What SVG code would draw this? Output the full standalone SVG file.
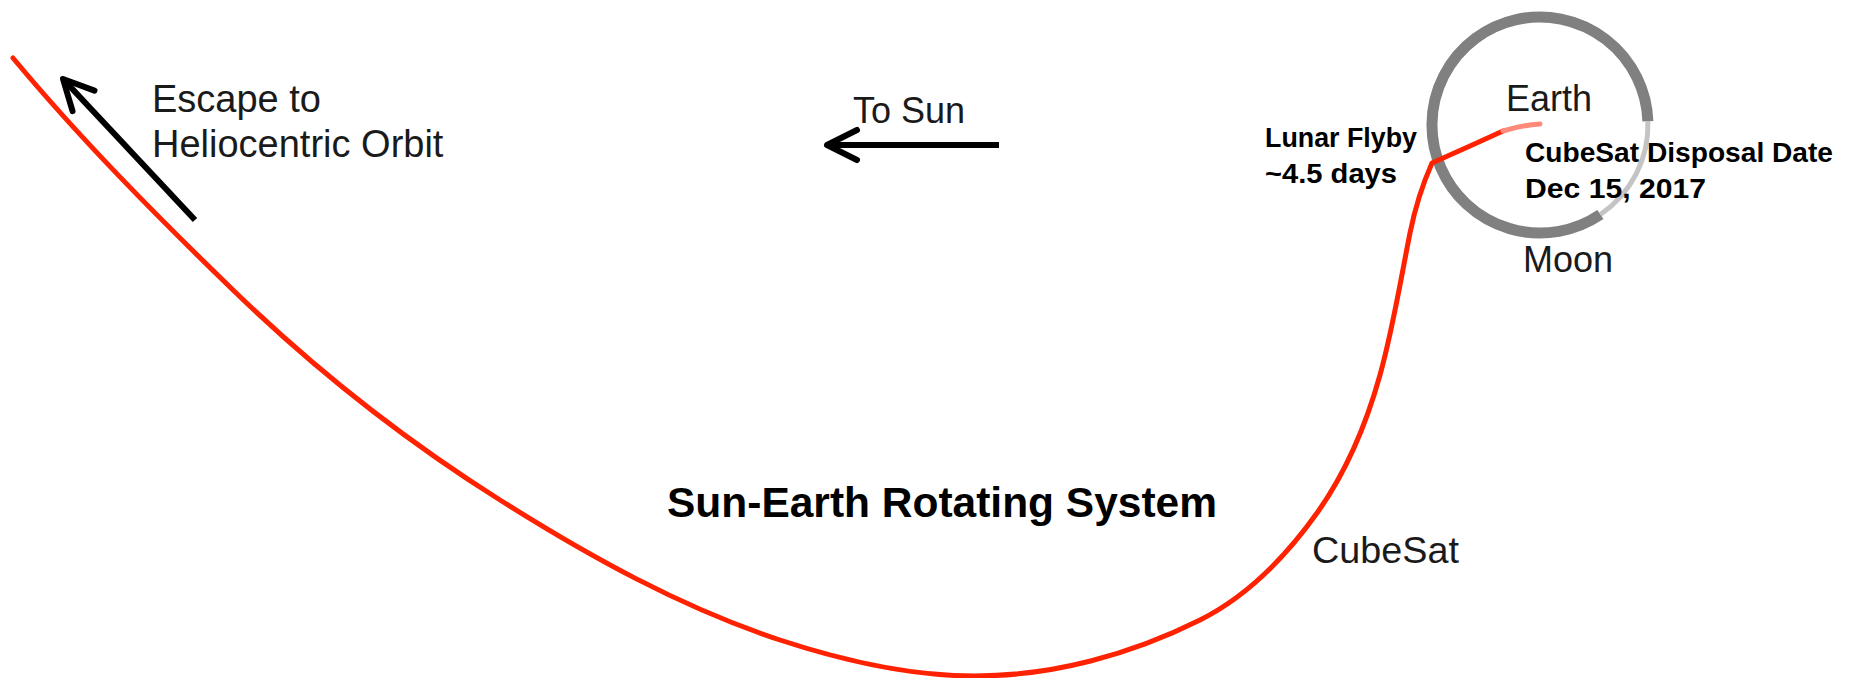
<svg xmlns="http://www.w3.org/2000/svg" width="1858" height="678" viewBox="0 0 1858 678">
<style>
.lbl{font-family:"Liberation Sans",Arial,sans-serif;fill:#1a1a1a;font-size:36px}
.esc{font-size:38px}
.bold{font-family:"Liberation Sans",Arial,sans-serif;fill:#000;font-weight:bold;font-size:28px}
.title{font-size:43px}
.traj{fill:none;stroke:#ff2200;stroke-width:5;stroke-linejoin:round;stroke-linecap:round}
.arrow{fill:none;stroke:#000;stroke-width:6;marker-end:url(#chev)}
</style>
<defs>
<marker id="chev" markerUnits="userSpaceOnUse" markerWidth="50" markerHeight="50" viewBox="-40 -25 50 50" refX="0" refY="0" orient="auto" overflow="visible">
<path d="M-30,-15 L0,0 L-30,15" fill="none" stroke="#000" stroke-width="6" stroke-linecap="round" stroke-linejoin="round"/>
</marker>
</defs>
<rect width="1858" height="678" fill="#fff"/>
<g id="moon-orbit">
<path d="M1600.4,214.5 A108,108 0 1 1 1647.9,121.2" fill="none" stroke="#808080" stroke-width="11"/>
<path d="M1647.9,121.2 A108,108 0 0 1 1600.4,214.5" fill="none" stroke="#c4c4c4" stroke-width="5"/>
</g>
<g id="connectors">
<path class="traj" d="M13,58 C81.2,139.9 156.5,215.8 233,290 C314.3,368.8 404.2,439.7 500,500 C588.2,555.6 680.9,607.4 780,640 C842.8,660.7 908.9,676 975,676 C1052.3,676 1130.9,654.6 1200,620 C1247.2,596.4 1286.3,556 1317,513 C1346.4,471.8 1366.4,423.8 1380,375 C1393,328.3 1400.5,280.5 1410,233 C1414.8,209 1422.1,185.4 1432,163 L1470,146 L1503,131"/>
<path d="M1503,131 Q1522,125 1540,124" fill="none" stroke="#ff8a7a" stroke-width="5" stroke-linecap="round"/>
<path class="arrow" d="M195,220 L63,79"/>
<path class="arrow" d="M999,145 L827,145"/>
</g>
<g id="escape-label">
<text class="lbl esc" x="152" y="112">Escape to</text>
<text class="lbl esc" x="152" y="157">Heliocentric Orbit</text>
</g>
<g id="sun-label"><text class="lbl" x="853" y="123">To Sun</text></g>
<g id="earth"><text class="lbl" x="1506" y="111">Earth</text></g>
<g id="moon"><text class="lbl" x="1523" y="272">Moon</text></g>
<g id="flyby">
<text class="bold" x="1265" y="147" textLength="152" lengthAdjust="spacingAndGlyphs">Lunar Flyby</text>
<text class="bold" x="1265" y="183" textLength="132" lengthAdjust="spacingAndGlyphs">~4.5 days</text>
</g>
<g id="disposal">
<text class="bold" x="1525" y="162" textLength="308" lengthAdjust="spacingAndGlyphs">CubeSat Disposal Date</text>
<text class="bold" x="1525" y="198" textLength="181" lengthAdjust="spacingAndGlyphs">Dec 15, 2017</text>
</g>
<g id="cubesat"><text class="lbl" x="1312" y="563" textLength="147" lengthAdjust="spacingAndGlyphs">CubeSat</text></g>
<g id="title"><text class="bold title" x="667" y="517" textLength="550" lengthAdjust="spacingAndGlyphs">Sun-Earth Rotating System</text></g>
</svg>
